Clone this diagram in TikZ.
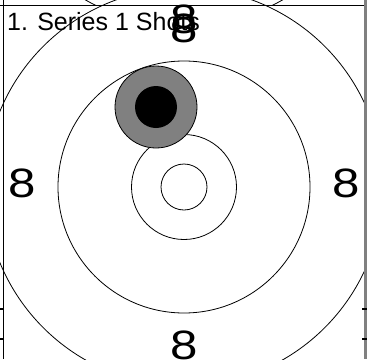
\documentclass[tikz,border=0pt]{standalone}
\usepackage{fontspec}
\setmainfont{Liberation Sans}
\usepackage{tikz}
\usetikzlibrary{positioning}

\begin{document}
\begin{tikzpicture}[
  x=1pt, y=-1pt,
  ring/.style={draw=black, line width=0.8pt},
  ringnum/.style={font=\fontsize{41}{41}\selectfont, inner sep=0pt, xscale=1.2},
  edge/.style={line width=1.4pt}
]
  \useasboundingbox (0,0) rectangle (367,359);
  \clip (0,0) rectangle (367,359);
  % card above, only its lower rim shows
  \begin{scope}
    \clip (0,0) rectangle (367,5.5);
    \draw[ring] (184,-173) circle (199);
    \node[ringnum] (uplow) at (184,-15) {8};
  \end{scope}
  % rings
  \foreach \r in {23,52.5,126,199}
    \draw[ring] (184,187) circle (\r);
  % the shot
  \filldraw[fill=gray, draw=black, line width=0.8pt] (156,107) circle (41);
  \fill[black] (156,107) circle (21);
  % ring numbers
  \node[ringnum] (numtop) at (184,19) {8};
  \node[ringnum] (numtopb) at (184,28) {8};
  \node[ringnum] (numleft) at (22,183) {8};
  \node[ringnum] (numright) at (346,183) {8};
  \node[ringnum] (numlow) at (184,345) {8};
  \node[font=\fontsize{25}{25}\selectfont, anchor=base west, inner sep=0pt] (title) at (7,30) {1. Series 1 Shots};
  % frame
  \draw[edge] (0,5.5) -- (367,5.5);
  \draw[edge] (3.5,0) -- (3.5,359);
  \draw[line width=2.5pt, gray] (365.5,0) -- (365.5,359);
  \foreach \y in {309,339} {
    \draw[edge] (0,\y) -- (4,\y);
    \draw[edge] (362,\y) -- (367,\y);
  }
\end{tikzpicture}
\end{document}
